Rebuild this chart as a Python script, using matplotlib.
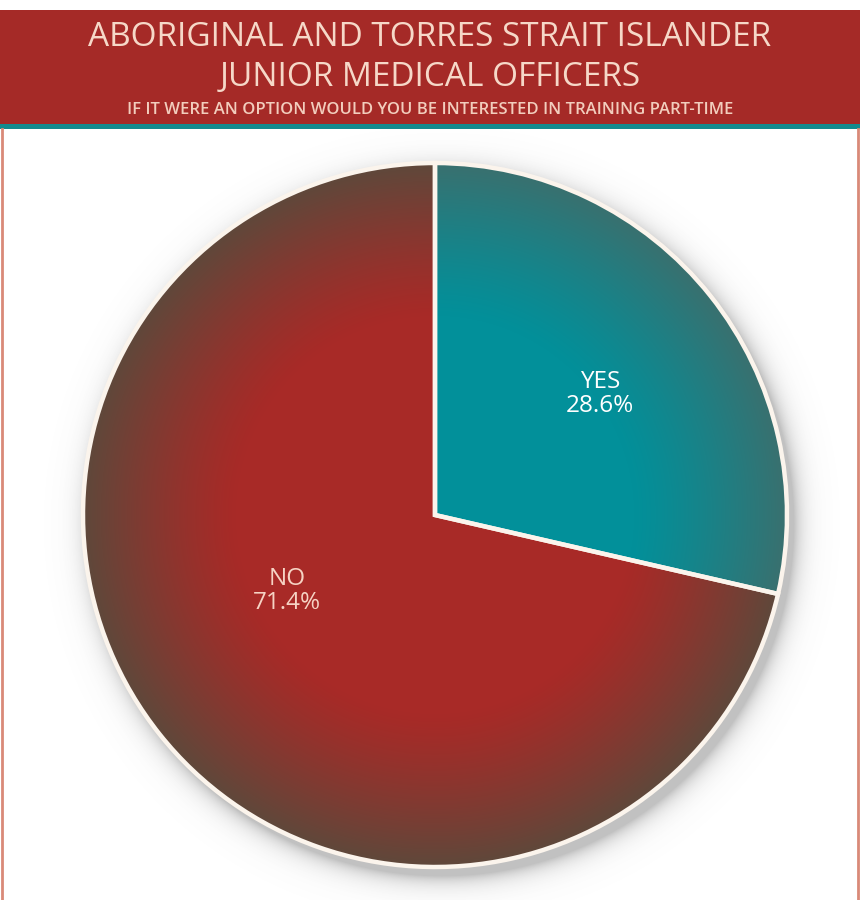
import numpy as np
import matplotlib
matplotlib.use("Agg")
import matplotlib.pyplot as plt
from matplotlib.patches import Rectangle, Circle
from matplotlib.colors import to_rgb

plt.rcParams['font.family'] = ['Open Sans', 'DejaVu Sans']

title_lines = ["ABORIGINAL AND TORRES STRAIT ISLANDER", "JUNIOR MEDICAL OFFICERS"]
subtitle = "IF IT WERE AN OPTION WOULD YOU BE INTERESTED IN TRAINING PART-TIME"
answers = ["YES", "NO"]
shares = [28.6, 71.4]
slice_colors = ["#02909A", "#A82A27"]
rim_colors = ["#3D6E6C", "#5A4A3C"]
label_colors = ["#FFFFFF", "#F6D3C4"]

W, H = 860, 900
fig = plt.figure(figsize=(W / 100, H / 100), dpi=100)
ax = fig.add_axes([0, 0, 1, 1])

cx, cy, R = 435, 385, 352

xs = np.arange(0, W) + 0.5
ys = np.arange(0, H) + 0.5
X, Y = np.meshgrid(xs, ys)

# soft drop shadow under the pie
d = np.hypot(X - cx - 7, Y - cy + 9) - R
shadow = np.zeros((H, W, 4))
shadow[..., :3] = 0.4
shadow[..., 3] = np.where(d < 0, 0.4, 0.4 * np.exp(-np.clip(d, 0, None) / 10.0))
ax.imshow(shadow, extent=(0, W, 0, H), origin="lower", zorder=1, interpolation="bilinear")

wedges, _ = ax.pie(shares, colors=slice_colors, startangle=90, counterclock=False,
                   center=(cx, cy), radius=R, wedgeprops=dict(edgecolor="none", linewidth=0))
for w in wedges:
    w.set_zorder(2)

# darkening towards the rim, tinted per slice
r = np.hypot(X - cx, Y - cy) / R
clock = (90 - np.degrees(np.arctan2(Y - cy, X - cx))) % 360
bounds = np.cumsum(shares) / sum(shares) * 360
idx = np.searchsorted(bounds, clock)
idx = np.clip(idx, 0, len(shares) - 1)
t = np.clip((r - 0.56) / 0.44, 0, 1) ** 1.25
rim = np.zeros((H, W, 4))
rim[..., :3] = np.array([to_rgb(c) for c in rim_colors])[idx]
rim[..., 3] = 0.95 * t
im = ax.imshow(rim, extent=(0, W, 0, H), origin="lower", zorder=3, interpolation="bilinear")
im.set_clip_path(Circle((cx, cy), R, transform=ax.transData))

# cream outline and slice separators
edges, _ = ax.pie(shares, colors=["none", "none"], startangle=90, counterclock=False,
                  center=(cx, cy), radius=R,
                  wedgeprops=dict(edgecolor="#FBF4EC", linewidth=3.2))
for w in edges:
    w.set_zorder(4)
    w.set_facecolor("none")

# slice labels
ax.text(600, 900 - 394, f"{answers[0]}\n{shares[0]:.1f}%", ha="center", va="center",
        fontsize=17.5, color=label_colors[0], linespacing=1.0, zorder=5)
ax.text(287, 900 - 591, f"{answers[1]}\n{shares[1]:.1f}%", ha="center", va="center",
        fontsize=17.5, color=label_colors[1], linespacing=1.0, zorder=5)

# header band
ax.add_patch(Rectangle((0, 900 - 124), W, 114, facecolor="#A52A27", edgecolor="none", zorder=6))
ax.add_patch(Rectangle((0, 900 - 129), W, 5, facecolor="#138A8E", edgecolor="none", zorder=6))
ax.text(430, 900 - 37, title_lines[0], ha="center", va="center", fontsize=24,
        color="#F6D8C8", zorder=7)
ax.text(430, 900 - 77, title_lines[1], ha="center", va="center", fontsize=24,
        color="#F6D8C8", zorder=7)
ax.text(430, 900 - 110, subtitle, ha="center", va="center", fontsize=12,
        fontweight="semibold", color="#F2CDBD", zorder=7)

# thin frame lines
ax.plot([2, 2], [0, 900 - 129], color="#D98A78", lw=2.0, zorder=6)
ax.plot([857.5, 857.5], [0, 900 - 129], color="#D98A78", lw=2.0, zorder=6)

ax.set_xlim(0, W)
ax.set_ylim(0, H)
ax.set_aspect("auto")
ax.axis("off")

fig.savefig("out.png", dpi=100, facecolor="white")
